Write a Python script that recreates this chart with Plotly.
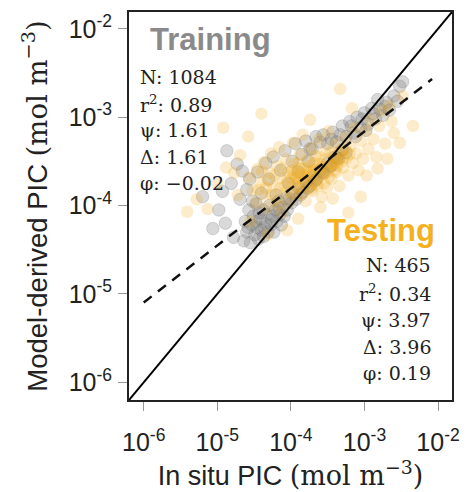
import numpy as np
import plotly.graph_objects as go

# ---- data (log10 of PIC, mol m^-3) ----
train_log_x = [-5.2, -5.06, -4.98, -4.93, -4.89, -4.87, -4.81, -4.78, -4.73, -4.69, -4.66, -4.64, -4.56,
               -4.62, -4.6, -4.57, -4.55, -4.53, -4.51, -4.49, -4.47, -4.46, -4.44, -4.42, -4.4, -4.38,
               -4.37, -4.35, -4.33, -4.31, -4.29, -4.27, -4.25, -4.23, -4.21, -4.19, -4.17, -4.15, -4.13,
               -4.11, -4.09, -4.07, -4.05, -4.48, -4.36, -4.26, -4.16, -4.58, -4.43,
               -4.6, -4.52, -4.45, -4.4, -4.34, -4.3, -4.24, -4.2, -4.14, -4.08, -4.03, -3.98, -3.94,
               -3.9, -3.85, -3.8, -3.76, -3.71, -3.66,
               -4.02, -3.97, -3.93, -3.89, -3.84, -3.79, -3.74, -3.7, -3.65, -3.6, -3.55, -3.5, -3.45,
               -3.4, -3.35, -3.3, -3.25, -3.99, -3.87, -3.77, -3.67, -3.57, -3.47, -3.37,
               -3.74, -3.6, -3.56, -3.5, -3.43, -3.38, -3.3, -3.25, -3.2, -3.15, -3.1, -3.05, -3.0,
               -2.95, -2.9, -2.85, -2.79, -2.75, -2.7, -2.66, -2.6, -2.55, -2.52, -2.48, -3.12, -2.98, -2.82,
               -3.45, -3.33, -3.18, -3.03, -2.88, -2.72]
train_log_y = [-3.9, -4.26, -4.05, -3.84, -4.2, -3.38, -3.75, -4.36, -3.53, -3.93, -3.61, -4.4, -3.7,
               -4.18, -4.3, -4.05, -4.42, -4.22, -4.12, -4.33, -3.98, -4.25, -4.38, -4.15, -4.28, -4.05,
               -4.35, -4.2, -4.1, -4.3, -4.0, -4.22, -4.12, -4.3, -4.05, -4.18, -3.95, -4.1, -4.22,
               -4.02, -4.12, -3.92, -4.05, -4.18, -4.25, -4.16, -4.03, -4.25, -4.08,
               -3.82, -3.95, -3.62, -3.86, -3.52, -3.7, -3.45, -3.88, -3.6, -3.38, -3.75, -3.5, -3.3,
               -3.62, -3.42, -3.27, -3.5, -3.36, -3.22,
               -3.92, -3.86, -3.93, -3.8, -3.85, -3.74, -3.78, -3.68, -3.7, -3.6, -3.63, -3.52, -3.55,
               -3.45, -3.47, -3.37, -3.4, -3.97, -3.88, -3.8, -3.72, -3.62, -3.56, -3.46,
               -3.36, -3.28, -3.2, -3.3, -3.17, -3.28, -3.1, -3.22, -3.05, -3.18, -3.0, -3.12, -2.95,
               -3.08, -2.9, -3.02, -2.91, -2.98, -2.83, -2.92, -2.76, -2.82, -2.65, -2.6, -3.22, -3.15, -2.8,
               -3.25, -3.2, -3.1, -3.02, -2.96, -2.88]

test_log_x = [-5.41, -5.13, -5.28, -4.92, -4.88, -4.77, -4.69, -4.72, -4.58, -4.4, -3.33, -3.17, -2.34,
              -2.52, -2.69, -2.97, -3.43, -3.22, -3.6, -2.6, -2.48, -3.74, -4.05, -4.32, -3.9, -2.82,
              -3.05, -5.0, -4.55,
              -4.57, -4.52, -4.48, -4.46, -4.41, -4.37, -4.36, -4.33, -4.29, -4.27, -4.24, -4.21, -4.19,
              -4.16, -4.14, -4.12, -4.09, -4.07, -4.04, -4.02, -3.99, -3.97, -3.95, -3.93, -3.9, -3.88,
              -3.86, -3.84, -3.82, -3.8, -3.78, -3.76, -3.73, -3.71, -3.69, -3.67, -3.65, -3.62, -3.6,
              -3.58, -3.56, -3.54, -3.51, -3.49, -3.47, -3.45, -3.43, -3.41, -3.38, -3.36, -3.34, -3.31,
              -3.29, -3.27, -3.24, -3.22, -3.19, -3.16, -3.14, -3.11, -3.08, -3.05, -3.02, -2.98, -2.95,
              -2.91, -2.88, -2.84, -2.8, -2.76, -2.72, -2.66, -2.63,
              -4.31, -4.22, -4.15, -4.11, -4.05, -3.98, -3.94, -3.91, -3.87, -3.83, -3.79, -3.75, -3.72,
              -3.68, -3.64, -3.61, -3.57, -3.53, -3.5, -3.46, -3.42, -3.39, -3.35, -3.3, -3.26, -3.2,
              -4.26, -4.18, -4.0, -3.92, -3.85, -3.77, -3.7, -3.63, -3.55, -4.44, -4.39, -4.34,
              -3.96, -3.89, -3.81, -3.74, -3.66, -3.59, -3.52, -3.44, -3.37, -3.28,
              -4.08, -3.99, -3.9, -3.82, -3.72, -3.63, -3.48, -3.4]
test_log_y = [-4.07, -4.04, -3.93, -3.12, -3.57, -3.63, -3.43, -3.88, -3.22, -2.96, -2.68, -2.9, -3.1,
              -3.29, -3.47, -3.66, -3.92, -4.08, -4.02, -3.18, -2.76, -3.03, -4.28, -4.33, -4.15, -3.58,
              -3.9, -3.75, -4.18,
              -3.68, -3.83, -3.97, -3.59, -3.74, -3.51, -3.88, -4.02, -3.63, -3.41, -3.79, -3.93, -3.55,
              -3.34, -3.69, -4.08, -3.85, -3.47, -3.62, -3.96, -3.75, -3.29, -3.53, -3.88, -3.66, -3.42,
              -3.79, -3.2, -3.58, -3.95, -3.49, -3.7, -3.35, -3.84, -3.6, -3.44, -3.76, -3.25, -3.53,
              -3.9, -3.65, -3.38, -3.8, -3.16, -3.55, -3.7, -3.44, -3.3, -3.62, -3.5, -3.78, -3.38,
              -3.57, -3.23, -3.46, -3.66, -3.33, -3.52, -3.12, -3.41, -3.6, -3.27, -3.47, -3.15, -3.36,
              -3.03, -3.25, -3.45, -3.1, -2.93, -3.3, -2.87, -3.05,
              -3.72, -3.66, -3.8, -3.58, -3.72, -3.6, -3.7, -3.52, -3.64, -3.72, -3.61, -3.55, -3.66,
              -3.52, -3.62, -3.45, -3.56, -3.48, -3.62, -3.4, -3.54, -3.47, -3.4, -3.5, -3.36, -3.42,
              -3.88, -3.98, -3.85, -3.78, -3.86, -3.8, -3.74, -3.7, -3.75, -3.82, -3.62, -3.8,
              -3.64, -3.58, -3.68, -3.62, -3.58, -3.64, -3.56, -3.52, -3.55, -3.45,
              -3.78, -3.68, -3.74, -3.66, -3.82, -3.78, -3.68, -3.6]

one_to_one = [1e-7, 1e-1]
fit_x = [1.0e-6, 8.3e-3]
fit_y = [8.0e-6, 2.7e-3]

tick_vals = [1e-6, 1e-5, 1e-4, 1e-3, 1e-2]
tick_text = ["10<sup>-6</sup>", "10<sup>-5</sup>", "10<sup>-4</sup>", "10<sup>-3</sup>", "10<sup>-2</sup>"]

train_stats = ["N: 1084", "r<sup>2</sup>: 0.89", "ψ: 1.61", "Δ: 1.61", "φ: −0.02"]
test_stats = ["N: 465", "r<sup>2</sup>: 0.34", "ψ: 3.97", "Δ: 3.96", "φ: 0.19"]

# ---- figure ----
# the page body has an 8 px margin, so the figure is 8 px smaller and shifted
OFF = 8
W, H = 468 - OFF, 492 - OFF
PL, PT, PR, PB = 129, 12, 452, 400          # plot box in page pixels
L, T = PL - OFF, PT - OFF
R, B = W + OFF - PR, H + OFF - PB

def px(x):
    return (x - PL) / (PR - PL)

def py(y):
    return (PB - y) / (PB - PT)

fig = go.Figure()
fig.add_trace(go.Scatter(
    x=np.power(10.0, train_log_x), y=np.power(10.0, train_log_y), mode="markers",
    marker=dict(size=12.5, color="rgba(130,130,130,0.3)",
                line=dict(width=1, color="rgba(100,100,100,0.22)")),
    name="Training", showlegend=False))
fig.add_trace(go.Scatter(
    x=np.power(10.0, test_log_x), y=np.power(10.0, test_log_y), mode="markers",
    marker=dict(size=12.5, color="rgba(240,168,20,0.22)", line=dict(width=0)),
    name="Testing", showlegend=False))
fig.add_trace(go.Scatter(x=one_to_one, y=one_to_one, mode="lines",
                         line=dict(color="black", width=2), showlegend=False))
fig.add_trace(go.Scatter(x=fit_x, y=fit_y, mode="lines",
                         line=dict(color="#111", width=2.5, dash="10px,8px"), showlegend=False))

rng = [-6.2, -1.81]
axis_common = dict(type="log", range=rng, tickvals=tick_vals, ticktext=tick_text,
                   ticks="outside", ticklen=9, tickwidth=1, tickcolor="#999",
                   showline=True, linecolor="#222", linewidth=2, mirror=True,
                   showgrid=False, zeroline=False, automargin=False,
                   tickfont=dict(family="Liberation Sans, Arial", size=25, color="#222"))
serif = "font-family:'DejaVu Serif', serif"
fig.update_xaxes(**axis_common, ticklabelstandoff=10,
                 title=dict(text='In situ PIC <span style="%s">(mol m<sup>−3</sup>)</span>' % serif,
                            font=dict(family="Liberation Sans, Arial", size=27, color="#222"),
                            standoff=10))
fig.update_yaxes(**axis_common, ticklabelstandoff=1,
                 title=dict(text='Model-derived PIC <span style="%s">(mol m<sup>−3</sup>)</span>' % serif,
                            font=dict(family="Liberation Sans, Arial", size=27.5, color="#222"),
                            standoff=13))

ann = []
ann.append(dict(text="<b>Training</b>", x=px(148), y=py(40), xanchor="left", yanchor="middle",
                font=dict(family="Liberation Sans, Arial", size=31, color="#8a8a8a")))
ann.append(dict(text="<b>Testing</b>", x=px(437), y=py(230), xanchor="right", yanchor="middle",
                font=dict(family="Liberation Sans, Arial", size=31, color="#f5b01e")))
for s, yy in zip(train_stats, [77, 104, 130, 157, 183]):
    ann.append(dict(text=s, x=px(138), y=py(yy), xanchor="left", yanchor="middle",
                    font=dict(family="DejaVu Serif", size=19, color="#222")))
for s, yy in zip(test_stats, [265, 293, 320, 347, 373]):
    ann.append(dict(text=s, x=px(433), y=py(yy), xanchor="right", yanchor="middle",
                    font=dict(family="DejaVu Serif", size=19, color="#222")))
for a in ann:
    a.update(xref="paper", yref="paper", showarrow=False)

fig.update_layout(width=W, height=H, margin=dict(l=L, r=R, t=T, b=B),
                  paper_bgcolor="white", plot_bgcolor="white", annotations=ann)
fig.write_html("out.html")
